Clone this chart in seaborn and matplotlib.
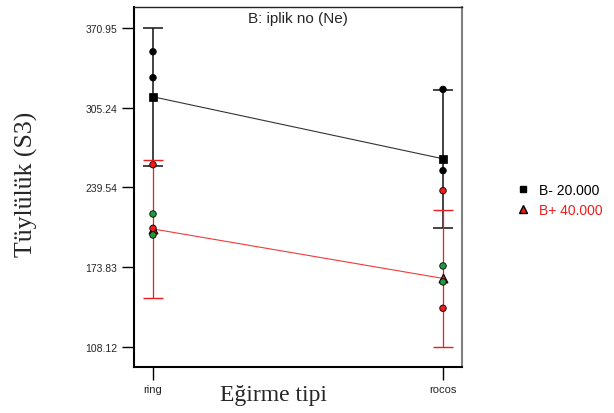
import numpy as np
import pandas as pd
import matplotlib
matplotlib.use("Agg")
import matplotlib.pyplot as plt
from matplotlib.lines import Line2D
import seaborn as sns

# ---- data ----
categories = ["ring", "rocos"]
b_minus_means = [314.3, 263.2]
b_plus_means = [205.4, 164.6]
lsd_half = [56.7, 56.7]
obs_tip = ["ring", "ring", "ring", "ring", "ring", "ring",
           "rocos", "rocos", "rocos", "rocos", "rocos", "rocos"]
obs_value = [351.4, 330.0, 258.3, 205.9, 217.7, 200.4,
             320.4, 253.4, 236.9, 140.0, 174.9, 161.7]
obs_group = ["k", "k", "r", "r", "g", "g",
             "k", "k", "r", "r", "g", "g"]
y_ticks = [108.12, 173.83, 239.54, 305.24, 370.95]
legend_labels = ["B- 20.000", "B+ 40.000"]

sns.set_theme(style="white")
plt.rcParams["font.family"] = ["Liberation Sans", "DejaVu Sans"]

fig = plt.figure(figsize=(6.14, 4.14), dpi=100)
ax = fig.add_axes([134/614, 1-368/414, (462-134)/614, 360/414])

xpos = {c: i for i, c in enumerate(categories)}
obs = pd.DataFrame({"x": [xpos[t] for t in obs_tip], "y": obs_value, "grp": obs_group})
means = pd.DataFrame({"x": [0, 1, 0, 1],
                      "y": b_minus_means + b_plus_means,
                      "B": [legend_labels[0]]*2 + [legend_labels[1]]*2})

RED = "#ee1c1c"
# LSD bars
ax.errorbar([0, 1], b_minus_means, yerr=lsd_half, fmt="none", ecolor="#111111",
            elinewidth=1.1, capsize=7.5, capthick=1.1, zorder=2)
ax.errorbar([0, 1], b_plus_means, yerr=lsd_half, fmt="none", ecolor=RED,
            elinewidth=0.9, capsize=7.5, capthick=1.0, zorder=2)

# mean lines
sns.lineplot(data=means[means.B == legend_labels[0]], x="x", y="y", color="#333333",
             lw=0.8, ax=ax, legend=False, zorder=3)
sns.lineplot(data=means[means.B == legend_labels[1]], x="x", y="y", color="#f03a3a",
             lw=0.8, ax=ax, legend=False, zorder=3)

# mean markers
sns.scatterplot(data=means[means.B == legend_labels[0]], x="x", y="y", marker="s",
                color="black", s=30, edgecolor="black", linewidth=0.5, ax=ax,
                legend=False, zorder=4)
sns.scatterplot(data=means[means.B == legend_labels[1]], x="x", y="y", marker="^",
                color=RED, s=40, edgecolor="black", linewidth=0.8, ax=ax,
                legend=False, zorder=4)

# observations
pal = {"k": "black", "r": RED, "g": "#1e9a3c"}
sns.scatterplot(data=obs, x="x", y="y", hue="grp", palette=pal, s=22,
                edgecolor="black", linewidth=0.6, ax=ax, legend=False, zorder=5)

ax.set_xlim(-0.0655, 1.0655)
ax.set_ylim(91.6, 388.3)
ax.set_xticks([0, 1])
ax.set_xticklabels(categories, fontsize=8)
ax.set_yticks(y_ticks)
ax.set_yticklabels([f"{v:.2f}" for v in y_ticks], fontsize=7.5)
ax.set_xlabel("")
ax.set_ylabel("")
ax.tick_params(axis="both", direction="out", length=9, width=1, color="black",
               left=True, bottom=True, pad=3)
ax.tick_params(axis="x", pad=3)

for s in ["left", "bottom"]:
    ax.spines[s].set_color("black")
    ax.spines[s].set_linewidth(1.5)
ax.spines["top"].set_color("#222222")
ax.spines["top"].set_linewidth(1.0)
ax.spines["right"].set_color("#808080")
ax.spines["right"].set_linewidth(1.5)

ax.text(0.5, (368-23)/360, "B: iplik no (Ne)", transform=ax.transAxes,
        ha="center", va="baseline", fontsize=11)

fig.text(26/614, 1-184/414, "Tüylülük (S3)", rotation=90, ha="center", va="center",
         fontsize=18.5, family=["Liberation Serif", "DejaVu Serif"])
fig.text(273/614, 1-396/414, "Eğirme tipi", ha="center", va="center",
         fontsize=17, family=["Liberation Serif", "DejaVu Serif"])

handles = [Line2D([], [], ls="none", marker="s", color="black", markersize=5),
           Line2D([], [], ls="none", marker="^", markerfacecolor=RED,
                  markeredgecolor="black", markersize=6)]
fig.legend(handles, legend_labels, loc="upper left", bbox_to_anchor=(513/614, 1-178/414),
           frameon=False, fontsize=10, labelcolor=["black", RED], handlelength=0.6,
           handletextpad=0.9, labelspacing=0.45, borderaxespad=0)

fig.savefig("out.png", dpi=100)
